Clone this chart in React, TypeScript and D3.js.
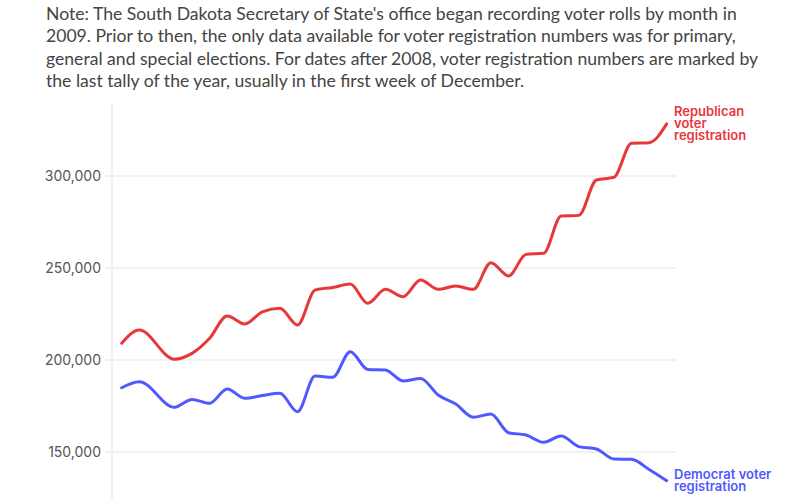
import React, { useEffect, useRef } from 'react';
import * as d3 from 'd3';

// years of each tally (pre-2009 = election records, after = December tally)
const years = [
  1993, 1994, 1996, 1997, 1998, 1999, 2000, 2001, 2002, 2003, 2004,
  2005, 2006, 2007, 2008, 2009, 2010, 2011, 2012, 2013, 2014, 2015,
  2016, 2017, 2018, 2019, 2020, 2021, 2022, 2023, 2024,
];

const republican = [
  209100, 216300, 200400, 203600, 211800, 223900, 219600, 226200, 228100, 219000, 238000,
  239400, 241300, 230800, 238400, 234400, 243500, 238400, 240200, 238400, 252900, 245700,
  257400, 258000, 278300, 278600, 297800, 299300, 317800, 318100, 328300,
];

const democrat = [
  184900, 188200, 174300, 178600, 176500, 184200, 179200, 180700, 181900, 171900, 191300,
  190600, 204500, 194900, 194600, 188600, 190000, 181000, 176100, 168900, 170600, 160500,
  159200, 155300, 158700, 152900, 151600, 146200, 146000, 140500, 134400,
];

const yTicks = [150000, 200000, 250000, 300000];

const noteLines = [
  "Note: The South Dakota Secretary of State's office began recording voter rolls by month in",
  '2009. Prior to then, the only data available for voter registration numbers was for primary,',
  'general and special elections. For dates after 2008, voter registration numbers are marked by',
  'the last tally of the year, usually in the first week of December.',
];

const series = [
  { name: 'rep', values: republican, color: '#e8373b', label: ['Republican', 'voter', 'registration'] },
  { name: 'dem', values: democrat, color: '#5059ff', label: ['Democrat voter', 'registration'] },
];

const App = () => {
  const svgRef = useRef(null);

  useEffect(() => {
    const svg = d3.select(svgRef.current);
    svg.selectAll('*').remove();

    const xScale = d3.scaleLinear()
      .domain([1993, 2024])
      .range([121.7, 666.7]);

    const yScale = d3.scaleLinear()
      .domain([120000, 340000])
      .range([507.2, 102.4]);

    // note
    svg.append('g')
      .selectAll('text')
      .data(noteLines)
      .enter().append('text')
      .attr('x', 46)
      .attr('y', (d, i) => 20 + i * 22.3)
      .text(d => d)
      .style('font-family', 'Lato, sans-serif')
      .style('font-size', '17.6px')
      .style('fill', '#444');

    // gridlines
    svg.append('g')
      .selectAll('line')
      .data(yTicks)
      .enter().append('line')
      .attr('x1', 105)
      .attr('x2', 676)
      .attr('y1', d => yScale(d))
      .attr('y2', d => yScale(d))
      .style('stroke', '#ececec')
      .style('stroke-width', 1.5);

    svg.append('line')
      .attr('x1', 112)
      .attr('x2', 112)
      .attr('y1', yScale(340000))
      .attr('y2', 500)
      .style('stroke', '#ececec')
      .style('stroke-width', 1.5);

    svg.append('g')
      .selectAll('text')
      .data(yTicks)
      .enter().append('text')
      .attr('x', 101)
      .attr('y', d => yScale(d))
      .attr('dy', '0.35em')
      .attr('text-anchor', 'end')
      .text(d => d3.format(',')(d))
      .style('font-family', 'Inter, sans-serif')
      .style('font-size', '14px')
      .style('fill', '#555');

    const line = d3.line()
      .x((d, i) => xScale(years[i]))
      .y(d => yScale(d))
      .curve(d3.curveMonotoneX);

    series.forEach(s => {
      svg.append('path')
        .attr('d', line(s.values))
        .style('fill', 'none')
        .style('stroke', s.color)
        .style('stroke-width', 3)
        .style('stroke-linejoin', 'round')
        .style('stroke-linecap', 'round');

      // end label, centred on the last point
      const endY = yScale(s.values[s.values.length - 1]);
      const lh = 12;
      svg.append('g')
        .selectAll('text')
        .data(s.label)
        .enter().append('text')
        .attr('x', 674)
        .attr('y', (d, i) => endY - (s.label.length - 1) * lh / 2 + 4.5 + i * lh)
        .text(d => d)
        .style('font-family', 'Inter, sans-serif')
        .style('font-size', '13px')
        .style('font-weight', 600)
        .style('fill', s.color);
    });
  }, []);

  return (
    <div style={{ position: 'absolute', left: 0, top: 0 }}>
      <svg ref={svgRef} width={800} height={500} style={{ display: 'block' }}></svg>
    </div>
  );
};

export default App;
